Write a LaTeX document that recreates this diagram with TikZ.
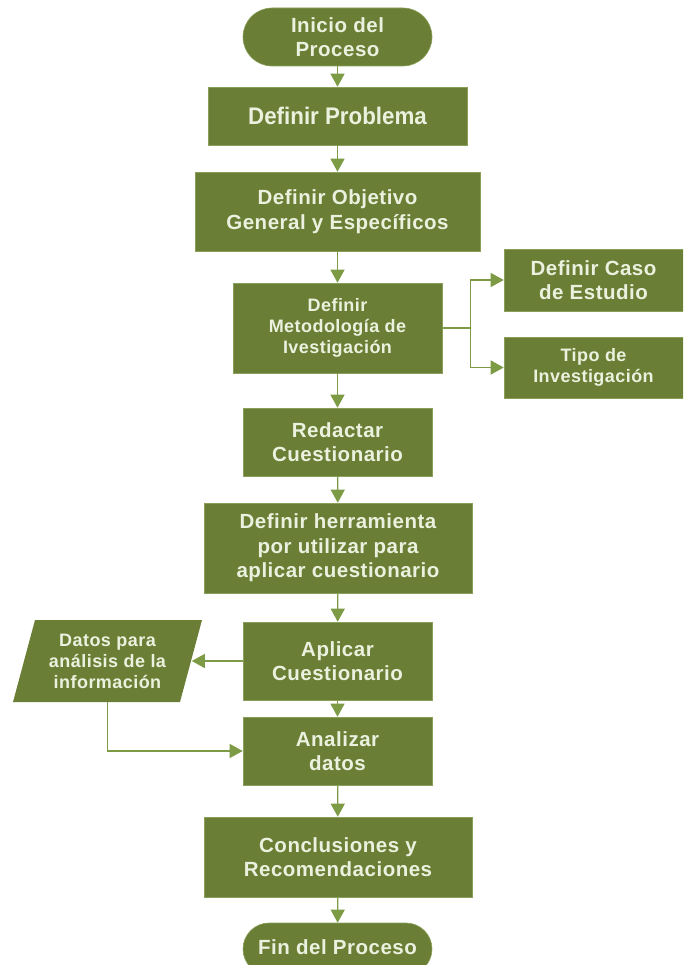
\documentclass[tikz,border=0pt]{standalone}
\usepackage{fontspec}
\setmainfont{Liberation Sans}[LetterSpace=2.5]
\newfontfamily\narrowfont[FakeStretch=0.93]{Liberation Sans}
\usetikzlibrary{arrows.meta}
\definecolor{boxfill}{HTML}{6A7F35}
\definecolor{boxline}{HTML}{8AA05A}
\definecolor{txt}{HTML}{EBF1DE}
\definecolor{conn}{HTML}{7D9A45}
\begin{document}
\begin{tikzpicture}[x=1pt,y=-1pt,
  base/.style={fill=boxfill, draw=boxline, line width=0.6pt, text=txt,
    font=\bfseries\fontsize{20.5}{24.5}\selectfont, align=center, inner sep=0pt},
  proc/.style={base, rectangle},
  term/.style={base, rectangle, rounded corners=26pt},
  small/.style={font=\bfseries\fontsize{18}{21}\selectfont},
  arr/.style={draw=conn, line width=1.3pt, -{Triangle[length=13pt,width=14pt]}},
  conline/.style={draw=conn, line width=1.3pt}]
\useasboundingbox (0,0) rectangle (683,965);
\clip (0,0) rectangle (683,965);

\node[term, minimum width=189pt, minimum height=58pt, rounded corners=29pt] (ini) at (337.5,37) {Inicio del\\Proceso};
\node[proc, minimum width=259pt, minimum height=58pt, font=\narrowfont\bfseries\fontsize{24}{26}\selectfont] (prob) at (337.5,116) {Definir Problema};
\node[proc, minimum width=285pt, minimum height=79pt] (obj) at (337.5,211.5) {Definir Objetivo\\General y Específicos};
\node[proc, small, minimum width=209pt, minimum height=90pt] (met) at (337.5,328) {Definir\\Metodología de\\Ivestigación};
\node[proc, minimum width=179pt, minimum height=62pt] (caso) at (593.5,280) {Definir Caso\\de Estudio};
\node[proc, small, minimum width=179pt, minimum height=61pt] (tipo) at (593.5,367.5) {Tipo de\\Investigación};
\node[proc, minimum width=189pt, minimum height=68pt] (red) at (337.5,442) {Redactar\\Cuestionario};
\node[proc, minimum width=268pt, minimum height=90pt] (herr) at (338,548) {Definir herramienta\\por utilizar para\\aplicar cuestionario};
\node[proc, minimum width=189pt, minimum height=78pt] (apl) at (337.5,661) {Aplicar\\Cuestionario};
\fill[boxfill] (35,620) -- (202,620) -- (180,702) -- (13,702) -- cycle;
\node[base, small, fill=none, draw=none, minimum width=168pt, minimum height=82pt] (datos) at (107.5,661) {Datos para\\análisis de la\\información};
\node[proc, minimum width=189pt, minimum height=68pt] (ana) at (337.5,751) {Analizar\\datos};
\node[proc, minimum width=268pt, minimum height=80pt] (conc) at (338,857) {Conclusiones y\\Recomendaciones};
\node[term, minimum width=189pt, minimum height=52pt] (fin) at (337.5,949) {\raisebox{3pt}{Fin del Proceso}};

\draw[arr] (ini) -- (prob);
\draw[arr] (prob) -- (obj);
\draw[arr] (obj) -- (met);
\draw[conline] (met.east) -- ++(28,0) coordinate (br);
\draw[arr] (br) |- (caso.west);
\draw[arr] (br) |- (tipo.west);
\draw[arr] (met) -- (red);
\draw[arr] (red) -- (herr);
\draw[arr] (herr) -- (apl);
\draw[arr] (apl) -- (datos);
\draw[arr] (datos.south) |- (ana.west);
\draw[arr] (apl) -- (ana);
\draw[arr] (ana) -- (conc);
\draw[arr] (conc) -- (fin);
\end{tikzpicture}
\end{document}
